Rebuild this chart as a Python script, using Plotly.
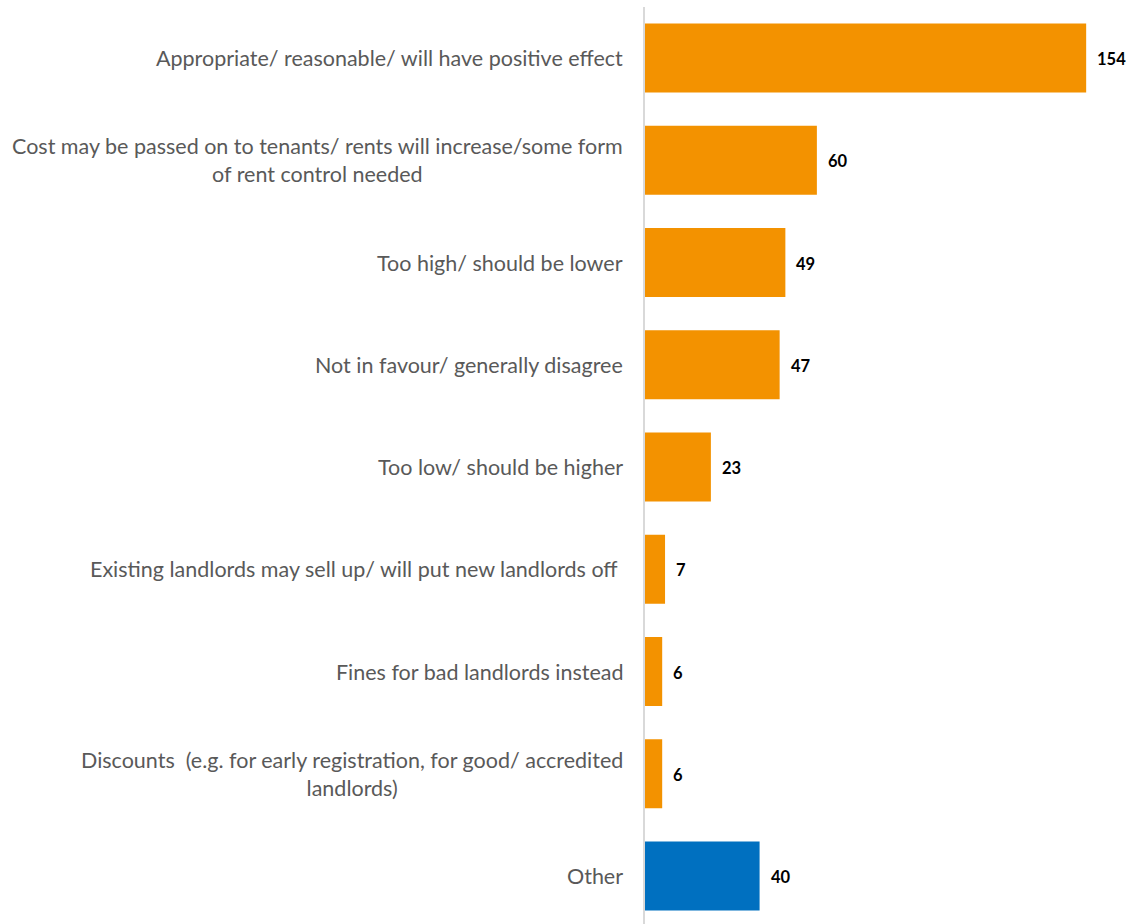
import plotly.graph_objects as go

categories = [
    "Appropriate/ reasonable/ will have positive effect",
    "Cost may be passed on to tenants/ rents will increase/some form<br>of rent control needed",
    "Too high/ should be lower",
    "Not in favour/ generally disagree",
    "Too low/ should be higher",
    "Existing landlords may sell up/ will put new landlords off ",
    "Fines for bad landlords instead",
    "Discounts  (e.g. for early registration, for good/ accredited<br>landlords)",
    "Other",
]
values = [154, 60, 49, 47, 23, 7, 6, 6, 40]
bar_colors = ["#F39200"] * 8 + ["#0070C0"]

positions = list(range(len(categories)))

fig = go.Figure()
fig.add_trace(go.Bar(
    x=values,
    y=positions,
    orientation="h",
    marker=dict(color=bar_colors, line=dict(width=0)),
    width=0.675,
    hoverinfo="x",
))

annotations = []
for pos, cat, val in zip(positions, categories, values):
    # category label, centred lines, right edge left of the axis
    annotations.append(dict(
        x=0, y=pos, xref="paper", yref="y",
        text=cat, showarrow=False,
        xanchor="right", yanchor="middle", align="center",
        xshift=-20,
        font=dict(family="Lato", size=21.5, color="#595959"),
    ))
    # value label just past the bar end
    annotations.append(dict(
        x=val, y=pos, xref="x", yref="y",
        text=f"<b>{val}</b>", showarrow=False,
        xanchor="left", yanchor="middle",
        xshift=9, yshift=-1,
        font=dict(family="Lato", size=16.5, color="#000000"),
    ))

fig.update_layout(
    width=1130, height=924,
    margin=dict(l=645, r=0, t=7, b=0),
    paper_bgcolor="white", plot_bgcolor="white",
    showlegend=False,
    annotations=annotations,
    xaxis=dict(range=[0, 169.3], showgrid=False, zeroline=False,
               showticklabels=False, showline=False, fixedrange=True),
    yaxis=dict(range=[8.469, -0.499], showgrid=False, zeroline=False,
               showticklabels=False, showline=True, linecolor="#D9D9D9",
               linewidth=2, ticks=""),
)

fig.write_html("out.html")
